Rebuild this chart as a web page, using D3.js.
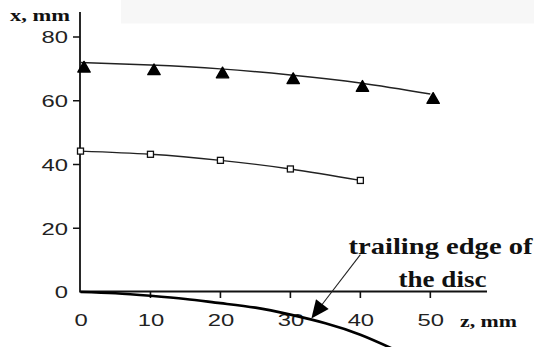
<!DOCTYPE html>
<html><head><meta charset="utf-8">
<script src="https://cdn.jsdelivr.net/npm/d3@7/dist/d3.min.js"></script>
<style>
html,body{margin:0;padding:0;background:#fff;}
svg{display:block;}
</style></head>
<body>
<svg id="c" width="534" height="347"></svg>
<script>
// ---- data ----
const xTicks = [0, 10, 20, 30, 40, 50];
const yTicks = [0, 20, 40, 60, 80];
// upper series: filled triangles (measured points) + smooth trend line
const triZ = [0.5, 10.5, 20.3, 30.4, 40.3, 50.4];
const triVals = [70.1, 69.3, 68.3, 66.5, 64.1, 60.3];
const fit1Z = [0, 10, 20, 30, 40, 50];
const fit1Vals = [72.0, 71.2, 70.0, 68.1, 65.6, 62.1];
// lower series: open squares
const sqZ = [0, 10, 20, 30, 40];
const sqVals = [44.2, 43.2, 41.3, 38.6, 35.0];
// trailing edge of the disc
const edgeZ = [0, 5, 10, 15, 20, 25, 30, 35, 40, 45];
const edgeVals = [0, -0.4, -1.2, -2.2, -3.5, -4.9, -7.1, -9.8, -13.4, -18.2];
// annotation arrow (data coords)
const arrowFrom = [40, 11.7];
const arrowTo = [33, -8.3];

const svg = d3.select("#c");
const x = d3.scaleLinear().domain([0, 58.1]).range([80.5, 487]);
const y = d3.scaleLinear().domain([0, 80]).range([292, 37]);
const SX = 1.4;
const sans = "'Liberation Sans', Arial, sans-serif";

// light grey band at top
svg.append("rect").attr("x", 121).attr("y", 0).attr("width", 413).attr("height", 23.5).attr("fill", "#f7f7f7");

// tick marks
const yTickPath = yTicks.filter(d => d !== 0).map(d => `M73,${y(d)}H80`).join("");
const xTickPath = xTicks.filter(d => d !== 0).map(d => `M${x(d)},291V298`).join("");
svg.append("path").attr("d", yTickPath).attr("fill", "none").attr("stroke", "#111").attr("stroke-width", 1.6);
svg.append("path").attr("d", xTickPath).attr("fill", "none").attr("stroke", "#111").attr("stroke-width", 1.6);

// axes via d3 axis generators (labels)
const gy = svg.append("g").attr("transform", "translate(80,0)")
  .call(d3.axisLeft(y).tickValues(yTicks).tickSize(0).tickSizeOuter(0).tickFormat(d3.format("d")));
gy.select(".domain").remove();
gy.selectAll(".tick line").remove();
gy.selectAll(".tick text")
  .attr("x", -12 / SX).attr("dy", "0.34em")
  .attr("transform", `scale(${SX},1)`)
  .attr("fill", "#222").style("font-family", sans).style("font-size", "17px");

const gx = svg.append("g").attr("transform", "translate(0,291.5)")
  .call(d3.axisBottom(x).tickValues(xTicks).tickSize(0).tickSizeOuter(0).tickFormat(d3.format("d")));
gx.select(".domain").remove();
gx.selectAll(".tick line").remove();
gx.selectAll(".tick text")
  .attr("y", 35).attr("dy", 0)
  .attr("transform", `scale(${SX},1)`)
  .attr("fill", "#222").style("font-family", sans).style("font-size", "17px");

// axis lines
svg.append("line").attr("x1", 80).attr("x2", 80).attr("y1", 12).attr("y2", 292.5)
  .attr("stroke", "#111").attr("stroke-width", 1.8);
svg.append("line").attr("x1", 80).attr("x2", 487).attr("y1", 291.5).attr("y2", 291.5)
  .attr("stroke", "#111").attr("stroke-width", 2);

// trailing edge curve
const edgeLine = d3.line().x(d => x(d[0])).y(d => y(d[1])).curve(d3.curveNatural);
svg.append("path").datum(edgeZ.map((z, i) => [z, edgeVals[i]]))
  .attr("d", edgeLine).attr("fill", "none").attr("stroke", "#000").attr("stroke-width", 2.6);

// series lines
const line = d3.line().x(d => x(d[0])).y(d => y(d[1])).curve(d3.curveNatural);
svg.append("path").datum(fit1Z.map((z, i) => [z, fit1Vals[i]]))
  .attr("d", line).attr("fill", "none").attr("stroke", "#222").attr("stroke-width", 1.5);
svg.append("path").datum(sqZ.map((z, i) => [z, sqVals[i]]))
  .attr("d", line).attr("fill", "none").attr("stroke", "#222").attr("stroke-width", 1.4);

// triangles
const tri = d3.symbol().type(d3.symbolTriangle).size(66);
svg.selectAll(".tri").data(triZ.map((z, i) => [z, triVals[i]])).join("path")
  .attr("class", "tri")
  .attr("transform", d => `translate(${x(d[0])},${y(d[1])})`)
  .attr("d", tri).attr("fill", "#000").attr("stroke", "#000").attr("stroke-width", 1.4)
  .attr("stroke-linejoin", "round");

// squares
svg.selectAll(".sq").data(sqZ.map((z, i) => [z, sqVals[i]])).join("rect")
  .attr("class", "sq")
  .attr("x", d => x(d[0]) - 3).attr("y", d => y(d[1]) - 3)
  .attr("width", 6).attr("height", 6)
  .attr("fill", "#fff").attr("stroke", "#111").attr("stroke-width", 1.3);

// arrow
const ax0 = x(arrowFrom[0]), ay0 = y(arrowFrom[1]);
const ax1 = x(arrowTo[0]), ay1 = y(arrowTo[1]);
const dx = ax1 - ax0, dy = ay1 - ay0, L = Math.hypot(dx, dy);
const ux = dx / L, uy = dy / L;
const hl = 18, hw = 8;
const bx = ax1 - ux * hl, by = ay1 - uy * hl;
svg.append("line").attr("x1", ax0).attr("y1", ay0).attr("x2", bx + ux * 2).attr("y2", by + uy * 2)
  .attr("stroke", "#222").attr("stroke-width", 1.1);
svg.append("path")
  .attr("d", `M${ax1},${ay1}L${bx - uy * hw},${by + ux * hw}L${bx + uy * hw},${by - ux * hw}Z`)
  .attr("fill", "#000");

// text labels
const serif = "'Liberation Serif', 'Times New Roman', serif";
function label(txt, px, py, size, len) {
  svg.append("text").attr("x", px).attr("y", py).text(txt)
    .attr("textLength", len).attr("lengthAdjust", "spacingAndGlyphs")
    .style("font-family", serif).style("font-weight", "bold").style("font-size", size + "px")
    .attr("fill", "#111");
}
label("x, mm", 10, 21, 17, 60);
label("z, mm", 460, 327, 17, 57);
label("trailing edge of", 348.5, 254, 24, 184);
label("the disc", 398.5, 287.3, 24, 88);
</script>
</body></html>
